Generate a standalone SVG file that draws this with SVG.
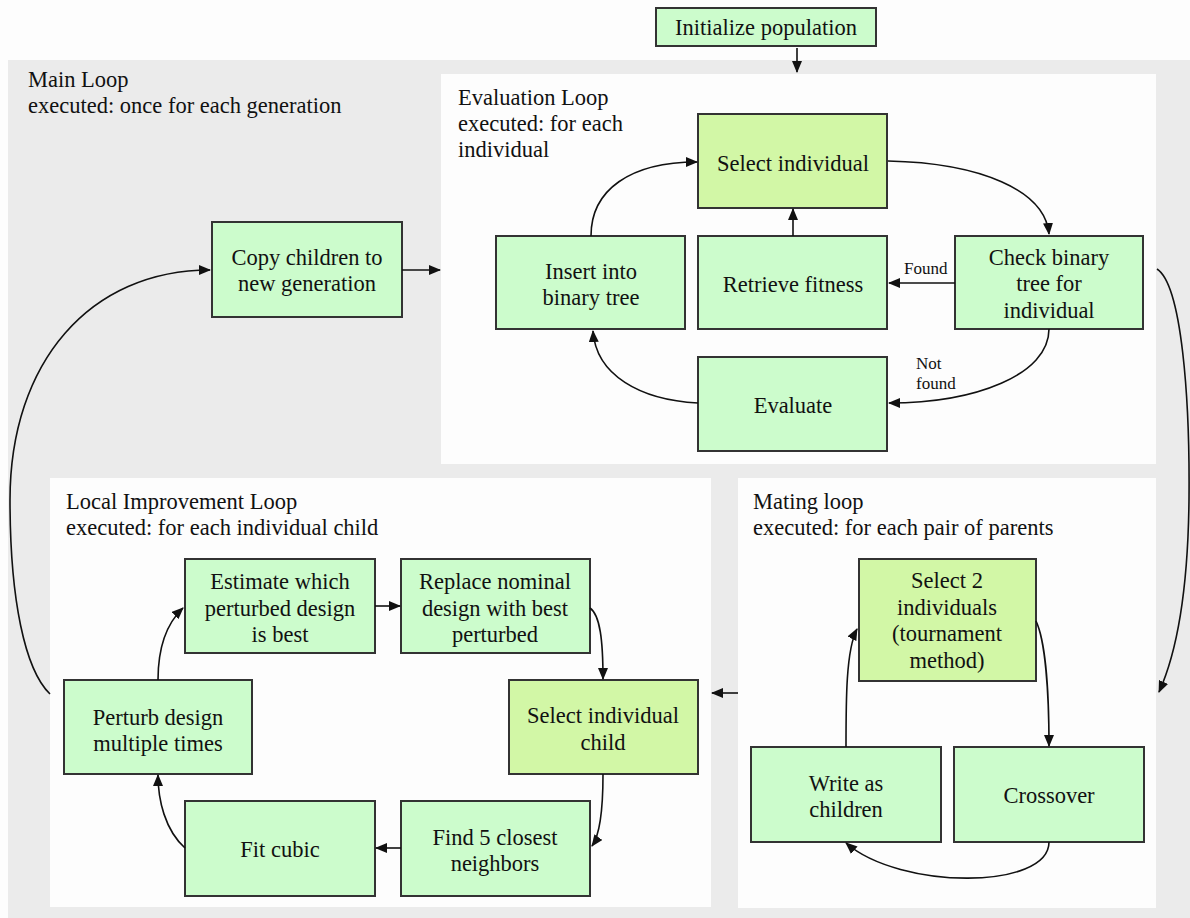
<svg xmlns="http://www.w3.org/2000/svg" width="1190" height="918" viewBox="0 0 1190 918">
<defs>
<marker id="ah" markerWidth="12" markerHeight="10" refX="11" refY="5" orient="auto" markerUnits="userSpaceOnUse">
<path d="M0,0 L12,5 L0,10 z" fill="#111"/>
</marker>
<style>
.bg{fill:#ebebeb}
.panel{fill:#fdfdfd}
.box{fill:#ccfccc;stroke:#333;stroke-width:2}
.hi{fill:#d2f7a6;stroke:#333;stroke-width:2}
text{font-family:"Liberation Serif","Times New Roman",serif;font-size:22.5px;fill:#111}
.c{text-anchor:middle}
.sm{font-size:17px}
.e{fill:none;stroke:#111;stroke-width:1.6;marker-end:url(#ah)}
</style>
</defs>
<rect width="1190" height="918" fill="#fdfdfd"/>
<rect class="bg" x="8" y="60" width="1182" height="858"/>
<g id="panels">
<rect class="panel" x="441" y="74" width="715" height="390"/>
<rect class="panel" x="50" y="478" width="661" height="429"/>
<rect class="panel" x="738" y="478" width="418" height="430"/>
</g>
<g id="labels">
<text x="28" y="87">Main Loop</text>
<text x="28" y="113">executed: once for each generation</text>
<text x="458" y="105">Evaluation Loop</text>
<text x="458" y="131">executed: for each</text>
<text x="458" y="157">individual</text>
<text x="66" y="509">Local Improvement Loop</text>
<text x="66" y="535">executed: for each individual child</text>
<text x="753" y="509">Mating loop</text>
<text x="753" y="535">executed: for each pair of parents</text>
<text class="sm" x="904" y="274">Found</text>
<text class="sm" x="916" y="369">Not</text>
<text class="sm" x="916" y="389">found</text>
</g>
<g id="init"><rect class="box" x="656" y="8" width="220" height="38"/><text class="c" x="766" y="35">Initialize population</text></g>
<g id="copy"><rect class="box" x="212" y="222" width="190" height="95"/><text class="c" x="307" y="265">Copy children to</text><text class="c" x="307" y="291">new generation</text></g>
<g id="selectInd"><rect class="hi" x="698" y="114" width="189" height="94"/><text class="c" x="793" y="171">Select individual</text></g>
<g id="insert"><rect class="box" x="496" y="236" width="189" height="93"/><text class="c" x="591" y="279">Insert into</text><text class="c" x="591" y="305">binary tree</text></g>
<g id="retrieve"><rect class="box" x="698" y="236" width="189" height="93"/><text class="c" x="793" y="292">Retrieve fitness</text></g>
<g id="check"><rect class="box" x="955" y="236" width="188" height="93"/><text class="c" x="1049" y="265">Check binary</text><text class="c" x="1049" y="291">tree for</text><text class="c" x="1049" y="318">individual</text></g>
<g id="evaluate"><rect class="box" x="698" y="357" width="189" height="94"/><text class="c" x="793" y="413">Evaluate</text></g>
<g id="estimate"><rect class="box" x="185" y="559" width="190" height="94"/><text class="c" x="280" y="589">Estimate which</text><text class="c" x="280" y="616">perturbed design</text><text class="c" x="280" y="642">is best</text></g>
<g id="replace"><rect class="box" x="401" y="559" width="189" height="94"/><text class="c" x="495" y="589">Replace nominal</text><text class="c" x="495" y="616">design with best</text><text class="c" x="495" y="642">perturbed</text></g>
<g id="selectChild"><rect class="hi" x="509" y="680" width="189" height="94"/><text class="c" x="603" y="723">Select individual</text><text class="c" x="603" y="750">child</text></g>
<g id="perturb"><rect class="box" x="64" y="680" width="188" height="94"/><text class="c" x="158" y="725">Perturb design</text><text class="c" x="158" y="751">multiple times</text></g>
<g id="fit"><rect class="box" x="185" y="801" width="190" height="95"/><text class="c" x="280" y="857">Fit cubic</text></g>
<g id="find"><rect class="box" x="401" y="801" width="189" height="95"/><text class="c" x="495" y="845">Find 5 closest</text><text class="c" x="495" y="871">neighbors</text></g>
<g id="select2"><rect class="hi" x="859" y="559" width="177" height="122"/><text class="c" x="947" y="588">Select 2</text><text class="c" x="947" y="615">individuals</text><text class="c" x="947" y="641">(tournament</text><text class="c" x="947" y="668">method)</text></g>
<g id="write"><rect class="box" x="751" y="747" width="190" height="95"/><text class="c" x="846" y="791">Write as</text><text class="c" x="846" y="817">children</text></g>
<g id="crossover"><rect class="box" x="954" y="747" width="190" height="95"/><text class="c" x="1049" y="803">Crossover</text></g>
<g id="connectors">
<path class="e" d="M797,48 L797,72"/>
<path class="e" d="M402,270 L440,270"/>
<path class="e" d="M50,694 C25,670 10,600 10,500 C10,362 90,270 210,270"/>
<path class="e" d="M888,161 C980,163 1045,190 1049,234"/>
<path class="e" d="M793,236 L793,209"/>
<path class="e" d="M955,283 L889,283"/>
<path class="e" d="M1049,329 C1049,375 975,403 889,403"/>
<path class="e" d="M698,403 C640,400 596,375 593,331"/>
<path class="e" d="M591,236 C591,190 630,162 697,162"/>
<path class="e" d="M1157,269 C1182,285 1190,400 1189,500 C1188,590 1178,650 1159,692"/>
<path class="e" d="M738,693 L712,693"/>
<path class="e" d="M375,606 L400,606"/>
<path class="e" d="M590,608 C600,615 603,640 603,679"/>
<path class="e" d="M603,774 C603,810 600,835 592,846"/>
<path class="e" d="M401,848 L376,848"/>
<path class="e" d="M185,848 C165,830 158,800 158,775"/>
<path class="e" d="M158,680 C158,650 165,625 183,608"/>
<path class="e" d="M1036,621 C1045,640 1049,690 1049,746"/>
<path class="e" d="M846,747 C846,700 846,650 857,629"/>
<path class="e" d="M1049,842 C1049,890 900,890 846,843"/>
</g>
</svg>
